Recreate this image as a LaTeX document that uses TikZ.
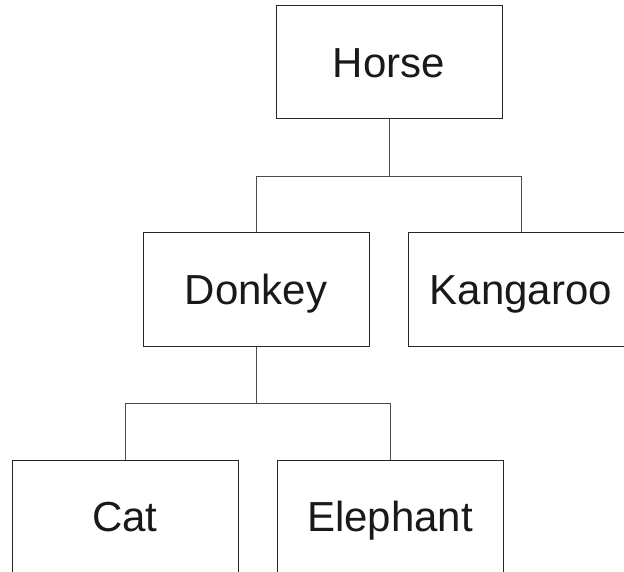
\documentclass[tikz,border=0pt]{standalone}
\usepackage{fontspec}
\setmainfont{Liberation Sans}
\begin{document}
\begin{tikzpicture}[x=1pt,y=-1pt,
  animal/.style={draw=black!85, line width=1pt, rectangle, minimum width=226pt, minimum height=113pt,
    inner sep=0pt, text height=30pt, text depth=0pt, font=\fontsize{42}{50}\selectfont, text=black!90},
  link/.style={draw=black!70, line width=1pt}]
\useasboundingbox (0,0) rectangle (624,572);
\clip (0,0) rectangle (624,572);
\node[animal] (horse) at (389,62.5) {Horse};
\node[animal] (donkey) at (256,289.5) {Donkey};
\node[animal] (kangaroo) at (521,289.5) {Kangaroo};
\node[animal] (cat) at (125,516.5) {Cat};
\node[animal] (elephant) at (390,516.5) {Elephant};
\draw[link] (horse.south) -- ++(0,57) coordinate (hb) -| (donkey.north);
\draw[link] (hb) -| (kangaroo.north);
\draw[link] (donkey.south) -- ++(0,57) coordinate (db) -| (cat.north);
\draw[link] (db) -| (elephant.north);
\end{tikzpicture}
\end{document}
